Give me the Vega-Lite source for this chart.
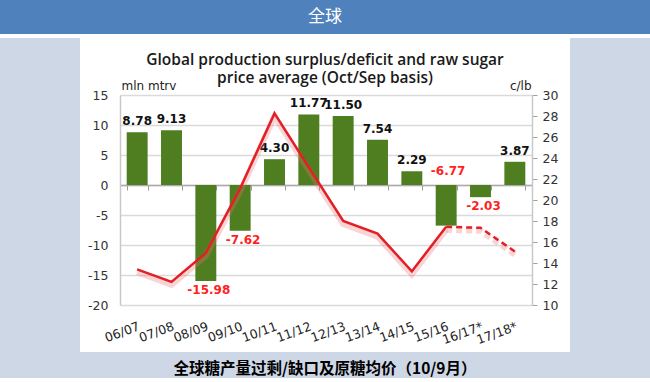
{
  "$schema": "https://vega.github.io/schema/vega-lite/v6.json",
  "background": "#CED7E6",
  "padding": 0,
  "config": {
    "view": {"stroke": null},
    "font": "DejaVu Sans",
    "locale": {"number": {"decimal": ".", "thousands": ",", "grouping": [3], "currency": ["$", ""], "minus": "-"}}
  },
  "title": {
    "text": "全球糖产量过剩/缺口及原糖均价（10/9月）",
    "orient": "bottom", "anchor": "middle",
    "font": "Noto Sans CJK SC", "fontSize": 15.5, "fontWeight": "bold", "color": "#000000", "offset": 10
  },
  "spacing": 0,
  "vconcat": [
    {
      "width": 650, "height": 34,
      "view": {"fill": "#4F81BD", "stroke": null},
      "data": {"values": [{"t": "全球"}]},
      "mark": {"type": "text", "font": "Noto Sans CJK SC", "fontSize": 17, "color": "#FFFFFF"},
      "encoding": {"text": {"field": "t"}}
    },
    {
      "width": 650, "height": 4,
      "view": {"fill": "#FFFFFF", "stroke": null},
      "data": {"values": []},
      "mark": {"type": "text"},
      "encoding": {"text": {"field": "t"}}
    },
    {
      "spacing": 0,
      "hconcat": [
        {
          "width": 80, "height": 314,
          "data": {"values": []},
          "mark": {"type": "text"},
          "encoding": {"text": {"field": "t"}}
        },
        {
          "width": 490, "height": 314,
          "view": {"fill": "#FFFFFF", "stroke": null},
          "title": {
            "text": ["Global production surplus/deficit and raw sugar", "price average (Oct/Sep basis)"],
            "font": "Open Sans", "fontSize": 15.5, "fontWeight": 600, "color": "#1a1a1a",
            "lineHeight": 18, "baseline": "top", "offset": -48, "anchor": "middle"
          },
          "data": {"values": [
            {"season": "06/07", "surplus": 8.78, "price": 13.4},
            {"season": "07/08", "surplus": 9.13, "price": 12.2},
            {"season": "08/09", "surplus": -15.98, "price": 14.95},
            {"season": "09/10", "surplus": -7.62, "price": 21.1},
            {"season": "10/11", "surplus": 4.30, "price": 28.25},
            {"season": "11/12", "surplus": 11.77, "price": 23.1},
            {"season": "12/13", "surplus": 11.50, "price": 18.0},
            {"season": "13/14", "surplus": 7.54, "price": 16.8},
            {"season": "14/15", "surplus": 2.29, "price": 13.2},
            {"season": "15/16", "surplus": -6.77, "price": 17.45},
            {"season": "16/17*", "surplus": -2.03, "price": 17.35},
            {"season": "17/18*", "surplus": 3.87, "price": 15.1}
          ]},
          "layer": [
            {
              "layer": [
                {
                  "mark": {"type": "bar", "color": "#4E7E1F"},
                  "encoding": {
                    "x": {"field": "season", "type": "nominal", "sort": null,
                      "scale": {"range": [40, 452], "paddingInner": 0.39, "paddingOuter": 0.195},
                      "axis": {"title": null, "labelAngle": -20, "ticks": false, "domain": false, "offset": -47,
                        "labelPadding": 15, "labelFontSize": 12.5, "labelColor": "#222222", "labelFont": "DejaVu Sans"}},
                    "y": {"field": "surplus", "type": "quantitative",
                      "scale": {"domain": [-20, 15], "range": [267, 57], "nice": false, "zero": false},
                      "axis": {"title": "mln mtrv", "titleAngle": 0, "titleAlign": "left", "titleBaseline": "bottom",
                        "titleX": 1, "titleY": 54, "titleFontSize": 12, "titleFontWeight": "normal", "titleColor": "#222222",
                        "values": [-20, -15, -10, -5, 0, 5, 10, 15], "offset": -40, "ticks": false, "labelOverlap": false,
                        "domainColor": "#C8C8C8", "domainWidth": 1.5, "labelPadding": 12, "labelFontSize": 12.5, "labelColor": "#333333",
                        "gridColor": "#DADADA", "gridWidth": 1.5}}
                  }
                },
                {
                  "transform": [{"filter": "datum.surplus >= 0"}],
                  "mark": {"type": "text", "baseline": "bottom", "dy": -4, "fontWeight": "bold", "fontSize": 12, "color": "#111111"},
                  "encoding": {
                    "x": {"field": "season", "type": "nominal", "sort": null, "axis": null},
                    "y": {"field": "surplus", "type": "quantitative"},
                    "text": {"field": "surplus", "type": "quantitative", "format": ".2f"}
                  }
                },
                {
                  "transform": [{"filter": "datum.surplus < 0 && datum.season != '15/16'"}],
                  "mark": {"type": "text", "baseline": "top", "dy": 4, "dx": 3, "fontWeight": "bold", "fontSize": 12, "color": "#FF1F1F"},
                  "encoding": {
                    "x": {"field": "season", "type": "nominal", "sort": null, "axis": null},
                    "y": {"field": "surplus", "type": "quantitative"},
                    "text": {"field": "surplus", "type": "quantitative", "format": ".2f"}
                  }
                },
                {
                  "transform": [{"filter": "datum.season == '15/16'"}],
                  "mark": {"type": "text", "baseline": "bottom", "dy": -7, "dx": 2, "fontWeight": "bold", "fontSize": 12, "color": "#FF1F1F"},
                  "encoding": {
                    "x": {"field": "season", "type": "nominal", "sort": null,
                      "axis": {"title": null, "labels": false, "offset": -147, "ticks": true, "tickBand": "extent",
                        "tickSize": -5, "tickColor": "#9A9A9A", "domainColor": "#ABABAB", "domainWidth": 1.5, "grid": false}},
                    "y": {"datum": 0, "type": "quantitative"},
                    "text": {"field": "surplus", "type": "quantitative", "format": ".2f"}
                  }
                }
              ],
              "resolve": {"axis": {"x": "independent"}}
            },
            {
              "layer": [
                {
                  "transform": [{"filter": "indexof(['16/17*','17/18*'], datum.season) < 0"}],
                  "mark": {"type": "line", "color": "#F07070", "strokeWidth": 6, "opacity": 0.3, "yOffset": 3},
                  "encoding": {
                    "x": {"field": "season", "type": "nominal", "sort": null, "axis": null},
                    "y": {"field": "price", "type": "quantitative",
                      "scale": {"domain": [10, 30], "range": [267, 57], "nice": false, "zero": false},
                      "axis": {"orient": "right", "offset": -38, "title": "c/lb", "titleAngle": 0, "titleAlign": "right",
                        "titleBaseline": "bottom", "titleX": -1, "titleY": 54, "titleFontSize": 12, "titleFontWeight": "normal",
                        "titleColor": "#222222", "grid": false, "values": [10, 12, 14, 16, 18, 20, 22, 24, 26, 28, 30], "tickCount": 11,
                        "labelOverlap": false, "tickSize": 5, "tickColor": "#A0A0A0", "domainColor": "#C8C8C8", "domainWidth": 1.5,
                        "labelPadding": 5, "labelFontSize": 12.5, "labelColor": "#333333"}}
                  }
                },
                {
                  "transform": [{"filter": "indexof(['15/16','16/17*','17/18*'], datum.season) >= 0"}],
                  "mark": {"type": "line", "color": "#F07070", "strokeWidth": 6, "opacity": 0.3, "yOffset": 3, "strokeDash": [6, 4]},
                  "encoding": {
                    "x": {"field": "season", "type": "nominal", "sort": null, "axis": null},
                    "y": {"field": "price", "type": "quantitative",
                      "axis": {"orient": "right", "offset": -38, "title": "c/lb", "titleAngle": 0, "titleAlign": "right",
                        "titleBaseline": "bottom", "titleX": -1, "titleY": 54, "titleFontSize": 12, "titleFontWeight": "normal",
                        "titleColor": "#222222", "grid": false, "values": [10, 12, 14, 16, 18, 20, 22, 24, 26, 28, 30], "tickCount": 11,
                        "labelOverlap": false, "tickSize": 5, "tickColor": "#A0A0A0", "domainColor": "#C8C8C8", "domainWidth": 1.5,
                        "labelPadding": 5, "labelFontSize": 12.5, "labelColor": "#333333"}}
                  }
                },
                {
                  "transform": [{"filter": "indexof(['16/17*','17/18*'], datum.season) < 0"}],
                  "mark": {"type": "line", "color": "#E31E24", "strokeWidth": 2.5},
                  "encoding": {
                    "x": {"field": "season", "type": "nominal", "sort": null, "axis": null},
                    "y": {"field": "price", "type": "quantitative",
                      "axis": {"orient": "right", "offset": -38, "title": "c/lb", "titleAngle": 0, "titleAlign": "right",
                        "titleBaseline": "bottom", "titleX": -1, "titleY": 54, "titleFontSize": 12, "titleFontWeight": "normal",
                        "titleColor": "#222222", "grid": false, "values": [10, 12, 14, 16, 18, 20, 22, 24, 26, 28, 30], "tickCount": 11,
                        "labelOverlap": false, "tickSize": 5, "tickColor": "#A0A0A0", "domainColor": "#C8C8C8", "domainWidth": 1.5,
                        "labelPadding": 5, "labelFontSize": 12.5, "labelColor": "#333333"}}
                  }
                },
                {
                  "transform": [{"filter": "indexof(['15/16','16/17*','17/18*'], datum.season) >= 0"}],
                  "mark": {"type": "line", "color": "#E31E24", "strokeWidth": 2.5, "strokeDash": [6, 4]},
                  "encoding": {
                    "x": {"field": "season", "type": "nominal", "sort": null, "axis": null},
                    "y": {"field": "price", "type": "quantitative",
                      "axis": {"orient": "right", "offset": -38, "title": "c/lb", "titleAngle": 0, "titleAlign": "right",
                        "titleBaseline": "bottom", "titleX": -1, "titleY": 54, "titleFontSize": 12, "titleFontWeight": "normal",
                        "titleColor": "#222222", "grid": false, "values": [10, 12, 14, 16, 18, 20, 22, 24, 26, 28, 30], "tickCount": 11,
                        "labelOverlap": false, "tickSize": 5, "tickColor": "#A0A0A0", "domainColor": "#C8C8C8", "domainWidth": 1.5,
                        "labelPadding": 5, "labelFontSize": 12.5, "labelColor": "#333333"}}
                  }
                }
              ]
            }
          ],
          "resolve": {"scale": {"y": "independent"}, "axis": {"x": "independent"}}
        },
        {
          "width": 80, "height": 314,
          "data": {"values": []},
          "mark": {"type": "text"},
          "encoding": {"text": {"field": "t"}}
        }
      ]
    }
  ]
}
